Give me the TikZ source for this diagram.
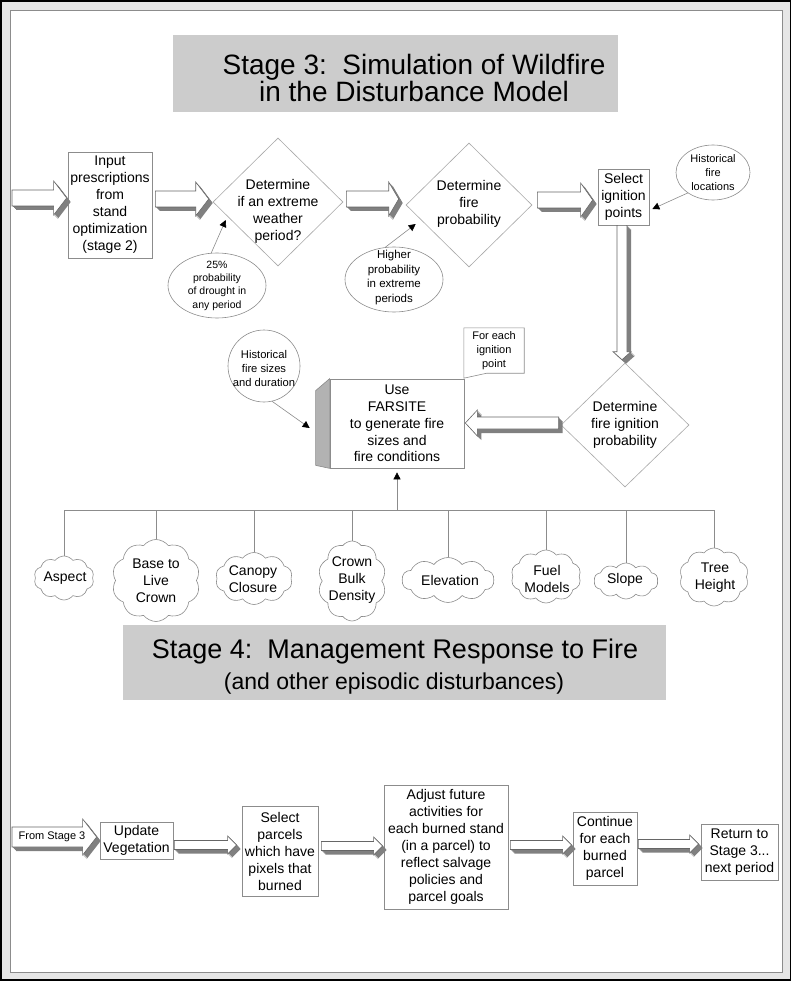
\documentclass[tikz,border=0pt]{standalone}
\usepackage{fontspec}
\setmainfont{Liberation Sans}
\usetikzlibrary{shapes.geometric,shapes.symbols,arrows.meta,calc}
\definecolor{band}{HTML}{E6E6E6}
\definecolor{ttl}{HTML}{CCCCCC}
\definecolor{edge}{HTML}{8C8C8C}
\definecolor{ledge}{HTML}{A8A8A8}
\definecolor{shd}{HTML}{808080}
\newcommand\myfs[2]{\fontsize{#1}{#2}\selectfont}
% block-arrow outlines (offset #1 = extrusion right/down)
\newcommand\rpts[1]{(\x1+#1,\y1+\bkh-#1) -- (\x2-\bkL+#1,\y1+\bkh-#1) -- (\x2-\bkL+#1,\y1+\bkH-#1) -- (\x2+#1,\y1-#1) -- (\x2-\bkL+#1,\y1-\bkH-#1) -- (\x2-\bkL+#1,\y1-\bkh-#1) -- (\x1+#1,\y1-\bkh-#1) -- cycle}
\newcommand\lpts[1]{(\x1+#1,\y1+\bkh-#1) -- (\x2+\bkL+#1,\y1+\bkh-#1) -- (\x2+\bkL+#1,\y1+\bkH-#1) -- (\x2+#1,\y1-#1) -- (\x2+\bkL+#1,\y1-\bkH-#1) -- (\x2+\bkL+#1,\y1-\bkh-#1) -- (\x1+#1,\y1-\bkh-#1) -- cycle}
\newcommand\dpts[1]{(\x1-\bkh+#1,\y1-#1) -- (\x1-\bkh+#1,\y2+\bkL-#1) -- (\x1-\bkH+#1,\y2+\bkL-#1) -- (\x1+#1,\y2-#1) -- (\x1+\bkH+#1,\y2+\bkL-#1) -- (\x1+\bkh+#1,\y2+\bkL-#1) -- (\x1+\bkh+#1,\y1-#1) -- cycle}
% #1 shape macro, #2 start, #3 end (tip), #4 half body, #5 half head, #6 head length
\newcommand\blockarrow[6]{%
  \def\bkh{#4pt}\def\bkH{#5pt}\def\bkL{#6pt}%
  \foreach \sh in {4,3,2,1}{\fill[shd] let \p1=(#2),\p2=(#3) in #1{\sh pt};}%
  \filldraw[fill=white,draw=black!60,line width=0.6pt] let \p1=(#2),\p2=(#3) in #1{0pt};%
}
\begin{document}
\begin{tikzpicture}[x=1pt,y=-1pt,
  box/.style={draw=edge, fill=white, line width=0.7pt, align=center, inner sep=1pt, font=\myfs{14}{17}},
  txt/.style={align=center, inner sep=0pt, font=\myfs{14}{17}},
  small/.style={align=center, inner sep=0pt, font=\myfs{11}{13.8}},
  dia/.style={diamond, draw=ledge, fill=white, line width=0.6pt, inner sep=0pt},
  ell/.style={ellipse, draw=edge, fill=white, line width=0.6pt, inner sep=0pt},
  cld/.style={cloud, cloud puffs=10, cloud puff arc=105, cloud ignores aspect, draw=edge, fill=white, line width=0.6pt, inner sep=0pt},
  conn/.style={draw=edge, line width=0.6pt},
  ptr/.style={draw=edge, line width=0.6pt, -{Triangle[length=7pt,width=7pt,color=black]}},
  ttlline/.style={anchor=base, inner sep=0pt}
]
\useasboundingbox (0,0) rectangle (792,981);
% frame
\draw[line width=1.5pt, fill=band] (1,1) rectangle (790.5,980);
\draw[draw=black!45, line width=0.8pt, fill=white] (10.5,10.5) rectangle (782.5,972.5);

% titles
\fill[ttl] (173,35) rectangle (618,112);
\node[ttlline, font=\myfs{28}{28}] (t3a) at (414,75) {Stage 3:\ \ Simulation of Wildfire};
\node[ttlline, font=\myfs{28}{28}] (t3b) at (414,102) {in the Disturbance Model};
\fill[ttl] (123,625) rectangle (666,700);
\node[ttlline, font=\myfs{27}{27}] (t4a) at (395,658) {Stage 4:\ \ Management Response to Fire};
\node[ttlline, font=\myfs{23}{23}] (t4b) at (394,689) {(and other episodic disturbances)};

% top row
\node[box, minimum width=84pt, minimum height=106pt] (inp) at (110,205) {Input\\prescriptions\\from\\stand\\optimization\\(stage 2)};
\node[dia, minimum width=130pt, minimum height=128pt] (d1) at (278,202) {};
\node[txt] (d1t) at (278,211) {Determine\\if an extreme\\weather\\period?};
\node[dia, minimum width=126pt, minimum height=124pt] (d2) at (469,205) {};
\node[txt] (d2t) at (469,204) {Determine\\fire\\probability};
\node[box, minimum width=51pt, minimum height=56pt] (sel) at (623.5,197) {Select\\ignition\\points};
\node[ell, minimum width=98pt, minimum height=65pt] (e1) at (217,285.5) {};
\node[small, font=\myfs{10.5}{13.3}] (e1t) at (217,285.5) {25\%\\probability\\of drought in\\any period};
\node[ell, minimum width=98pt, minimum height=65pt] (e2) at (394,279.5) {};
\node[small, font=\myfs{11.5}{14.4}] (e2t) at (394,277.5) {Higher\\probability\\in extreme\\periods};
\node[ell, minimum width=74pt, minimum height=55pt] (e3) at (713,172.5) {};
\node[small] (e3t) at (713,172.5) {Historical\\fire\\locations};

% middle
\node[dia, minimum width=128pt, minimum height=124pt] (d3) at (625,425) {};
\node[txt] (d3t) at (625,425) {Determine\\fire ignition\\probability};
\node[box, minimum width=134pt, minimum height=89pt, font=\myfs{14}{16.8}] (far) at (397,423.5) {Use\\FARSITE\\to generate fire\\sizes and\\fire conditions};
\filldraw[fill=black!30, draw=edge, line width=0.6pt] (far.north west) -- ([xshift=-14pt,yshift=-12pt]far.north west) -- ([xshift=-14pt,yshift=3pt]far.south west) -- (far.south west) -- cycle;
\node[circle, draw=edge, fill=white, line width=0.6pt, inner sep=0pt, minimum size=72pt] (hc) at (264,366) {};
\node[small, font=\myfs{11.2}{14}] (hct) at (264,368) {Historical\\fire sizes\\and duration};
\node[small, minimum width=60pt, minimum height=45pt] (fe) at (494,350.5) {For each\\ignition\\point};
\draw[conn] (fe.north west) -- (fe.north east) -- (fe.south east) -- ([xshift=23pt]fe.south west) -- ([yshift=-5pt]fe.south west) -- cycle;

% clouds
\node[cld, minimum width=60pt, minimum height=44pt] (c1) at (64,578) {};
\node[txt] (c1t) at (65,578) {Aspect};
\node[cld, minimum width=88pt, minimum height=82pt] (c2) at (156,580.5) {};
\node[txt] (c2t) at (156,580.5) {Base to\\Live\\Crown};
\node[cld, minimum width=77pt, minimum height=52pt] (c3) at (254,578.5) {};
\node[txt] (c3t) at (253,579.5) {Canopy\\Closure};
\node[cld, minimum width=68pt, minimum height=80pt] (c4) at (352,581) {};
\node[txt] (c4t) at (352,580.5) {Crown\\Bulk\\Density};
\node[cld, minimum width=92pt, minimum height=45pt] (c5) at (448,580) {};
\node[txt] (c5t) at (450,580) {Elevation};
\node[cld, minimum width=70pt, minimum height=53pt] (c6) at (546,576.5) {};
\node[txt] (c6t) at (547,578.5) {Fuel\\Models};
\node[cld, minimum width=64pt, minimum height=36pt] (c7) at (626,581) {};
\node[txt] (c7t) at (625,580) {Slope};
\node[cld, minimum width=69pt, minimum height=58pt] (c8) at (714,577) {};
\node[txt] (c8t) at (715,577.5) {Tree\\Height};

% bottom row
\node[box, minimum width=73pt, minimum height=37pt] (upd) at (136.5,840.5) {Update\\Vegetation};
\node[box, minimum width=76pt, minimum height=90pt] (spx) at (280,851) {Select\\parcels\\which have\\pixels that\\burned};
\node[box, minimum width=124pt, minimum height=124pt] (adj) at (446,847) {Adjust future\\activities for\\each burned stand\\(in a parcel) to\\reflect salvage\\policies and\\parcel goals};
\node[box, minimum width=64pt, minimum height=73pt] (cont) at (605,848.5) {Continue\\for each\\burned\\parcel};
\node[box, minimum width=77pt, minimum height=56pt] (ret) at (739.5,852) {Return to\\Stage 3...\\next period};

% block arrows
\coordinate (s1) at (12,198);
\blockarrow\rpts{s1}{[xshift=-1pt]inp.west}{8}{17}{13}
\blockarrow\rpts{[xshift=3pt,yshift=6pt]inp.east}{[xshift=-4pt]d1.west}{8}{17}{13}
\blockarrow\rpts{[xshift=3pt,yshift=3pt]d1.east}{[xshift=-7pt]d2.west}{8}{17}{10}
\blockarrow\rpts{[xshift=5pt,yshift=5pt]d2.east}{[xshift=-5pt]sel.west}{8}{17}{12}
\blockarrow\dpts{[xshift=-1.5pt]sel.south}{[yshift=3pt]d3.north}{5}{9}{8}
\blockarrow\lpts{[xshift=-2pt,yshift=2pt]d3.west}{[xshift=1pt]far.east}{6}{13}{12}
\coordinate (s2) at (12,837);
\blockarrow\rpts{s2}{[xshift=-3pt]upd.west}{10}{18}{14}
\blockarrow\rpts{[xshift=1pt,yshift=-4.5pt]upd.east}{[xshift=-5pt]spx.west}{4.5}{9}{9}
\blockarrow\rpts{[xshift=3pt,yshift=5pt]spx.east}{[xshift=-1pt]adj.west}{4.5}{9}{9}
\blockarrow\rpts{[xshift=2pt,yshift=2pt]adj.east}{[xshift=-1pt]cont.west}{4.5}{9}{9}
\blockarrow\rpts{[xshift=1pt,yshift=4.5pt]cont.east}{[xshift=-2pt]ret.west}{4.5}{9}{9}
\node[small] (fs3) at (52,837) {From Stage 3};

% pointers
\draw[ptr] (e1.100) -- ([xshift=13pt,yshift=-18pt]d1.west);
\draw[ptr] (e2.105) -- ([xshift=10pt,yshift=-19pt]d2.west);
\draw[ptr] (e3.219) -- ([xshift=3pt,yshift=-12pt]sel.east);
\draw[ptr] (hc.283) -- ([xshift=-20pt,yshift=-4.5pt]far.west);

% tree
\coordinate (bus) at (397,510);
\draw[conn] (c1.north |- bus) -- (c8.north |- bus);
\draw[ptr] (bus) -- ([yshift=-4pt]far.south);
\foreach \c in {c1,c2,c3,c4,c5,c6,c7,c8}{\draw[conn] (\c.north |- bus) -- (\c.north);}
\end{tikzpicture}
\end{document}
